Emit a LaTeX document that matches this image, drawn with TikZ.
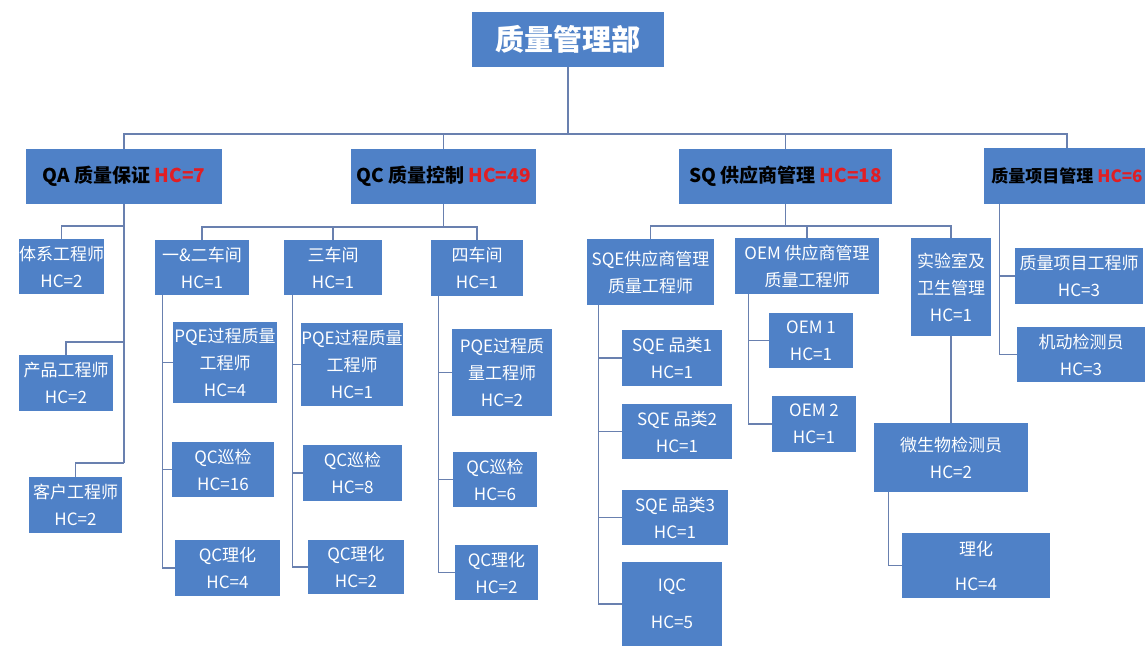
\documentclass[tikz,border=0pt]{standalone}
\usepackage{fontspec}
\setmainfont{Noto Sans CJK SC}
\definecolor{boxblue}{RGB}{79,129,199}
\definecolor{linecol}{RGB}{105,128,175}
\definecolor{hcred}{RGB}{225,30,35}
\begin{document}
\begin{tikzpicture}[x=1pt,y=-1pt,
  box/.style={fill=boxblue, draw=none, inner sep=0pt, align=center, text=white,
    font=\fontsize{17}{27}\selectfont},
  headbox/.style={box, text=black, font=\fontsize{19}{23}\selectfont\bfseries},
  topbox/.style={box, font=\fontsize{29}{33}\selectfont\bfseries},
  conn/.style={draw=linecol, line width=1.3pt}]
\useasboundingbox (0,0) rectangle (1145,646);
\fill[white] (0,0) rectangle (1145,646);
\def\hc#1{{\color{hcred}HC=#1}}
% top
\node[topbox, minimum width=192, minimum height=55] (top) at (568,39.5) {质量管理部};
% level 1
\node[headbox, minimum width=196, minimum height=55] (qa) at (124,176.5) {QA 质量保证 \hc{7}};
\node[headbox, minimum width=185, minimum height=55] (qc) at (443.5,176.5) {QC 质量控制 \hc{49}};
\node[headbox, minimum width=213, minimum height=55] (sq) at (785.5,176.5) {SQ 供应商管理 \hc{18}};
\node[headbox, minimum width=166, minimum height=56, font=\fontsize{17}{21}\selectfont\bfseries] (pm) at (1067,176) {质量项目管理 \hc{6}};
% QA children
\node[box, minimum width=85, minimum height=55] (a1) at (61.5,266.5) {体系工程师\\HC=2};
\node[box, minimum width=94, minimum height=56] (a2) at (66,383) {产品工程师\\HC=2};
\node[box, minimum width=93, minimum height=56] (a3) at (75.5,505) {客户工程师\\HC=2};
% QC children
\node[box, minimum width=94, minimum height=55] (c1) at (202,267.5) {一\&二车间\\HC=1};
\node[box, minimum width=98, minimum height=55] (c2) at (333,267.5) {三车间\\HC=1};
\node[box, minimum width=92, minimum height=56] (c3) at (477,268) {四车间\\HC=1};
\node[box, minimum width=104, minimum height=81] (c1a) at (225,362.5) {PQE过程质量\\工程师\\HC=4};
\node[box, minimum width=102, minimum height=55] (c1b) at (223,469.5) {QC巡检\\HC=16};
\node[box, minimum width=105, minimum height=56] (c1c) at (227.5,568) {QC理化\\HC=4};
\node[box, minimum width=100, minimum height=83] (c2a) at (352,364.5) {PQE过程质量\\工程师\\HC=1};
\node[box, minimum width=99, minimum height=56] (c2b) at (352.5,473) {QC巡检\\HC=8};
\node[box, minimum width=96, minimum height=54] (c2c) at (356,567) {QC理化\\HC=2};
\node[box, minimum width=100, minimum height=87] (c3a) at (502,372.5) {PQE过程质\\量工程师\\HC=2};
\node[box, minimum width=84, minimum height=55] (c3b) at (495,479.5) {QC巡检\\HC=6};
\node[box, minimum width=83, minimum height=55] (c3c) at (496.5,572.5) {QC理化\\HC=2};
% SQ children
\node[box, minimum width=127, minimum height=66] (s1) at (650.5,272) {SQE供应商管理\\质量工程师};
\node[box, minimum width=144, minimum height=56] (s2) at (807,266) {OEM 供应商管理\\质量工程师};
\node[box, minimum width=80, minimum height=98] (s3) at (951,287) {实验室及\\卫生管理\\HC=1};
\node[box, minimum width=100, minimum height=56] (s1a) at (672,358) {SQE 品类1\\HC=1};
\node[box, minimum width=110, minimum height=55] (s1b) at (677,431.5) {SQE 品类2\\HC=1};
\node[box, minimum width=106, minimum height=55] (s1c) at (675,517.5) {SQE 品类3\\HC=1};
\node[box, minimum width=100, minimum height=84, font=\fontsize{17}{37}\selectfont] (s1d) at (672,604) {IQC\\HC=5};
\node[box, minimum width=84, minimum height=55] (s2a) at (811,340.5) {OEM 1\\HC=1};
\node[box, minimum width=84, minimum height=56] (s2b) at (814,424) {OEM 2\\HC=1};
\node[box, minimum width=154, minimum height=69] (s3a) at (951,457.5) {微生物检测员\\HC=2};
\node[box, minimum width=148, minimum height=65, font=\fontsize{17}{35}\selectfont] (s3b) at (976,565.5) {理化\\HC=4};
% PM children
\node[box, minimum width=128, minimum height=56] (p1) at (1079,276) {质量项目工程师\\HC=3};
\node[box, minimum width=128, minimum height=55] (p2) at (1081,354.5) {机动检测员\\HC=3};
% connectors: top
\draw[conn] (top.south) -- (top.south |- 0,134);
\draw[conn] (qa.north) |- (pm.north |- 0,134) -- (pm.north);
\draw[conn] (qc.north) -- (qc.north |- 0,134);
\draw[conn] (sq.north) -- (sq.north |- 0,134);
% QA
\draw[conn] (qa.south) -- (qa.south |- 0,463);
\draw[conn] (qa.south |- 0,226) -| (a1.north);
\draw[conn] (qa.south |- 0,342) -| (a2.north);
\draw[conn] (qa.south |- 0,463) -| (a3.north);
% QC
\draw[conn] (qc.south) -- (qc.south |- 0,227);
\draw[conn] (c1.north) |- (c3.north |- 0,227) -- (c3.north);
\draw[conn] (c2.north) -- (c2.north |- 0,227);
\draw[conn] ([xshift=8pt]c1.south west) |- (c1c.west);
\draw[conn] ([xshift=8pt]c1.south west |- c1a.west) -- (c1a.west);
\draw[conn] ([xshift=8pt]c1.south west |- c1b.west) -- (c1b.west);
\draw[conn] ([xshift=9pt]c2.south west) |- (c2c.west);
\draw[conn] ([xshift=9pt]c2.south west |- c2a.west) -- (c2a.west);
\draw[conn] ([xshift=9pt]c2.south west |- c2b.west) -- (c2b.west);
\draw[conn] ([xshift=8pt]c3.south west) |- (c3c.west);
\draw[conn] ([xshift=8pt]c3.south west |- c3a.west) -- (c3a.west);
\draw[conn] ([xshift=8pt]c3.south west |- c3b.west) -- (c3b.west);
% SQ
\draw[conn] (sq.south) -- (sq.south |- 0,226);
\draw[conn] (s1.north) |- (s3.north |- 0,226) -- (s3.north);
\draw[conn] (s2.north) -- (s2.north |- 0,226);
\draw[conn] ([xshift=12pt]s1.south west) |- (s1d.west);
\draw[conn] ([xshift=12pt]s1.south west |- s1a.west) -- (s1a.west);
\draw[conn] ([xshift=12pt]s1.south west |- s1b.west) -- (s1b.west);
\draw[conn] ([xshift=12pt]s1.south west |- s1c.west) -- (s1c.west);
\draw[conn] ([xshift=14pt]s2.south west) |- (s2b.west);
\draw[conn] ([xshift=14pt]s2.south west |- s2a.west) -- (s2a.west);
\draw[conn] (s3.south) -- (s3a.north);
\draw[conn] ([xshift=15pt]s3a.south west) |- (s3b.west);
% PM
\draw[conn] ([xshift=16pt]pm.south west) |- (p2.west);
\draw[conn] ([xshift=16pt]pm.south west |- p1.west) -- (p1.west);
\end{tikzpicture}
\end{document}
